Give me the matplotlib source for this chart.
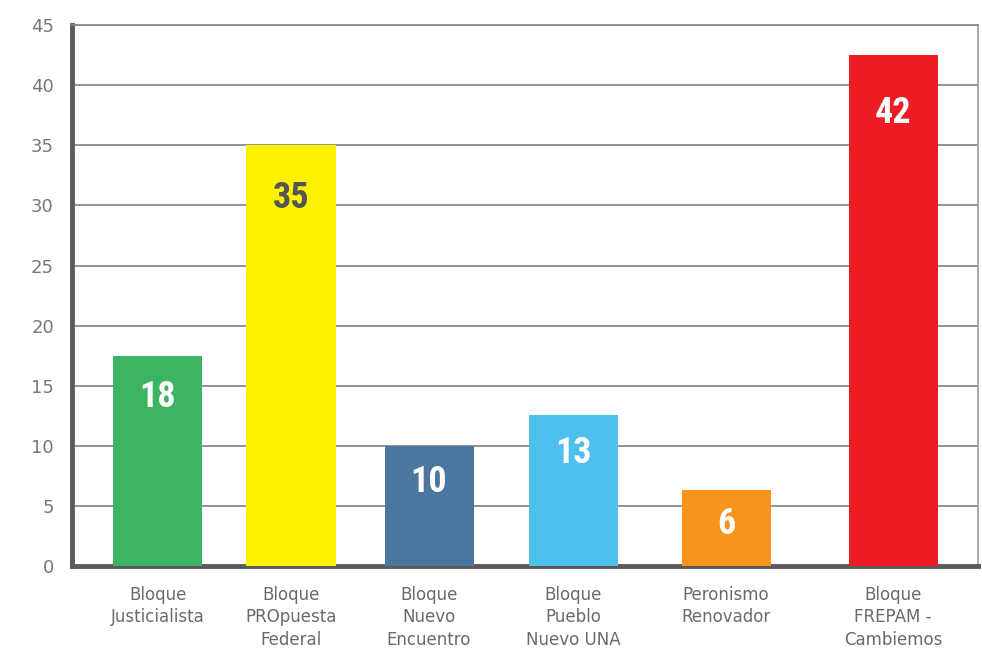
import matplotlib
matplotlib.use('Agg')
import matplotlib.pyplot as plt
from matplotlib import font_manager

categories = ['Bloque\nJusticialista', 'Bloque\nPROpuesta\nFederal', 'Bloque\nNuevo\nEncuentro',
              'Bloque\nPueblo\nNuevo UNA', 'Peronismo\nRenovador', 'Bloque\nFREPAM -\nCambiemos']
heights = [17.5, 35, 10, 12.6, 6.3, 42.5]
labels = ['18', '35', '10', '13', '6', '42']
colors = ['#3cb563', '#fff200', '#4a76a0', '#4dc0ee', '#f7941d', '#ed1c24']
label_colors = ['white', '#555555', 'white', 'white', 'white', 'white']

# bar centres in axis units (bars are not evenly spaced in the original)
xpos = [86, 219, 357, 501, 654, 821]

# pick a condensed face for the numbers if one is around
num_font = None
for fam, st in [('Liberation Sans Narrow', 'normal'), ('Roboto Condensed', 'normal'),
                ('DejaVu Sans', 'condensed'), ('Roboto', 'condensed')]:
    try:
        p = font_manager.findfont(font_manager.FontProperties(family=fam, weight='bold', stretch=st),
                                  fallback_to_default=False)
        if 'ondensed' in p or 'Narrow' in p:
            num_font = font_manager.FontProperties(fname=p)
            break
    except Exception:
        pass
if num_font is None:
    num_font = font_manager.FontProperties(family='DejaVu Sans', weight='bold')
num_font.set_size(26)

fig = plt.figure(figsize=(9.82, 6.5), dpi=100)
ax = fig.add_axes([0.0733, 0.129, 0.9227, 0.8325])

ax.set_xlim(0, 906)
ax.set_ylim(0, 45)
ax.set_yticks(range(0, 46, 5))
ax.yaxis.grid(True, color='#8a8a8a', linewidth=1.3)
ax.set_axisbelow(True)

ax.bar(xpos, heights, width=89, color=colors, zorder=3)

for x, h, t, c in zip(xpos, heights, labels, label_colors):
    off = -(30 + 0.65 * h) * 0.72
    ax.annotate(t, (x, h), xytext=(0, off), textcoords='offset points',
                ha='center', va='center', color=c, fontproperties=num_font, zorder=4)

ax.set_xticks(xpos)
ax.set_xticklabels(categories, fontsize=12, color='#6a6a6a', linespacing=1.35, va='top')
ax.tick_params(axis='x', length=0, pad=14)
ax.tick_params(axis='y', length=0, pad=13, labelsize=13, labelcolor='#777777')

ax.spines['left'].set_color('#5a5a5a')
ax.spines['left'].set_linewidth(3.5)
ax.spines['bottom'].set_color('#5a5a5a')
ax.spines['bottom'].set_linewidth(3.5)
ax.spines['right'].set_color('#999999')
ax.spines['right'].set_linewidth(1.2)
ax.spines['top'].set_color('#8a8a8a')
ax.spines['top'].set_linewidth(1.3)

fig.savefig('out.png', dpi=100)
